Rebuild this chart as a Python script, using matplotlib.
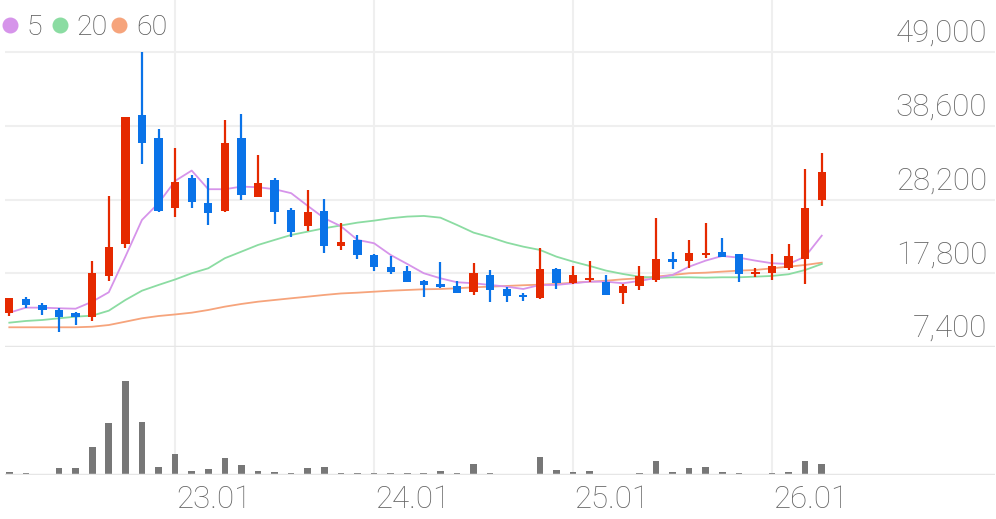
import matplotlib
matplotlib.use("Agg")
import matplotlib.pyplot as plt
import numpy as np

# monthly candles, 22.03 .. 26.04 (index 0..49)
opens = [12240, 14215, 13369, 12621, 12155, 11591, 17418, 21933, 40178, 36932,
         27055, 31289, 27761, 26590, 36848, 28607, 30964, 26731, 24473, 26632,
         21651, 22498, 20381, 18730, 18166, 16755, 16289, 16007, 15203, 17559,
         15541, 14596, 14272, 18363, 16388, 16854, 16614, 14977, 16007, 16854,
         19859, 19535, 20381, 20847, 20480, 17700, 17884, 18589, 19775, 28142]
closes = [14270, 13326, 12621, 11675, 11675, 17884, 21468, 39811, 36227, 26632,
          30724, 27902, 26350, 36142, 28847, 30498, 26491, 23669, 26491, 21651,
          22258, 20381, 18646, 17940, 16529, 16148, 15824, 15062, 17799, 15443,
          14596, 14413, 18363, 16388, 17559, 17178, 14737, 16007, 17418, 19817,
          19436, 20621, 20706, 20142, 17700, 18025, 18829, 20240, 26971, 32050]
highs = [14300, 14413, 13651, 12945, 12296, 19535, 28706, 39900, 48982, 38118,
         35437, 31669, 31204, 39430, 40234, 34491, 31204, 27055, 29553, 28283,
         24939, 23203, 20450, 20240, 18829, 16800, 19351, 16755, 19210, 18265,
         15824, 14977, 21411, 18500, 18829, 19535, 17559, 16289, 18871, 25560,
         20847, 22498, 24939, 22738, 20550, 18589, 20480, 21891, 32474, 34731]
lows = [11770, 12861, 11873, 9517, 10504, 11069, 16755, 21327, 33221, 26500,
        25785, 27055, 24614, 26406, 28142, 28500, 24755, 22963, 23768, 20706,
        21087, 19817, 18124, 17658, 16500, 14497, 15683, 14977, 14737, 13792,
        13792, 13933, 14200, 15541, 16300, 16614, 14700, 13467, 15443, 16614,
        18363, 18589, 19916, 20100, 16614, 17235, 16854, 18265, 16289, 27295]
volume = [22000, 12000, 5000, 62000, 62000, 272000, 518000, 935000, 528000, 72000,
          202000, 35000, 52000, 168000, 95000, 38000, 25000, 12000, 68000, 72000,
          18000, 18000, 15000, 15000, 15000, 12000, 35000, 12000, 108000, 20000,
          8000, 8000, 175000, 45000, 22000, 35000, 8000, 8000, 15000, 135000,
          28000, 62000, 72000, 28000, 15000, 8000, 18000, 25000, 138000, 102000]

ma5 = [12240, 12950, 12950, 12860, 12800, 13790, 15120, 20140, 25320, 27680,
       30820, 32280, 29650, 29650, 30020, 29930, 29650, 29090, 27300, 25560,
       24430, 22500, 22030, 20380, 19110, 17800, 17090, 16530, 16390, 16150,
       15910, 15580, 16150, 16150, 16390, 16610, 16610, 16390, 16710, 17140,
       17560, 18730, 19580, 20240, 20000, 19580, 19210, 19110, 20140, 23100]
ma20 = [10830, 11070, 11210, 11450, 11680, 11820, 12520, 14030, 15340, 16150,
        16920, 17800, 18500, 19920, 20850, 21790, 22500, 23200, 23670, 24150,
        24540, 24940, 25220, 25560, 25790, 25880, 25640, 24610, 23530, 22880,
        22120, 21550, 21090, 20140, 19440, 18830, 18170, 17700, 17320, 17140,
        17230, 17230, 17180, 17230, 17230, 17320, 17420, 17660, 18260, 19110]
ma60 = [10180, 10180, 10180, 10180, 10180, 10260, 10500, 10970, 11450, 11770,
        11990, 12240, 12620, 13090, 13470, 13790, 14030, 14270, 14500, 14740,
        14950, 15060, 15200, 15340, 15440, 15540, 15580, 15680, 15820, 15910,
        16010, 16110, 16190, 16290, 16470, 16610, 16750, 16950, 17090, 17320,
        17560, 17800, 17880, 18030, 18170, 18260, 18500, 18730, 18970, 19290]

price_ticks = [7400, 17800, 28200, 38600, 49000]
year_pos = [10, 22, 34, 46]
year_labels = ["23.01", "24.01", "25.01", "26.01"]
ma_labels = ["5", "20", "60"]

UP, DOWN = "#e52900", "#0a73e8"
MA_COLORS = ["#d694ea", "#8bdca2", "#f6a47c"]
GRID = "#efefef"
TXT = "#666666"

W, H = 996, 519
plt.rcParams["font.family"] = ["Roboto", "DejaVu Sans"]
fig = plt.figure(figsize=(W / 100, H / 100), dpi=100)

def px_axes(left, top, right, bottom):
    return fig.add_axes([left / W, 1 - bottom / H, (right - left) / W, (bottom - top) / H])

ax = px_axes(5, 0, 995, 347)
axv = px_axes(5, 347, 995, 474.5)

x = np.arange(len(opens))
xlim = (-0.26, 59.45)

for a in (ax, axv):
    a.set_xlim(*xlim)
    for s in a.spines.values():
        s.set_visible(False)
    a.set_xticks([])
    a.set_yticks([])
    for p in year_pos:
        a.axvline(p, color=GRID, lw=1.5, zorder=0)

ax.set_ylim(7400, 49000 + 52 * 141.02)
for v in price_ticks[1:]:
    ax.axhline(v, color=GRID, lw=1.5, zorder=0)
ax.axhline(7400, color="#e6e6e6", lw=2.5, zorder=0)
for v in price_ticks:
    ax.annotate(f"{v:,}", xy=(1, v), xycoords=("axes fraction", "data"),
                xytext=(-8, 10), textcoords="offset pixels", ha="right", va="baseline",
                fontsize=22.5, fontweight="light", color=TXT)

# moving averages
for vals, c in zip([ma60, ma20, ma5], MA_COLORS[::-1]):
    ax.plot(x, vals, color=c, lw=1.3, zorder=2)

# candles
o, c_, h, l = map(np.array, (opens, closes, highs, lows))
colors = [UP if cc >= oo else DOWN for oo, cc in zip(o, c_)]
ax.vlines(x, l, h, colors=colors, lw=1.6, zorder=3)
body = np.maximum(np.abs(c_ - o), 300)
ax.bar(x, body, bottom=np.minimum(o, c_), width=0.5, color=colors, zorder=4)

# volume
vmax = max(volume)
axv.set_ylim(0, vmax * 127.5 / 93.5)
axv.bar(x, volume, width=0.4, color="#777777", zorder=2)
axv.axhline(0, color="#e6e6e6", lw=2.5, zorder=3)

for p, lab in zip(year_pos, year_labels):
    fig.text((5 + (p - xlim[0]) / (xlim[1] - xlim[0]) * 990 + 1) / W, 1 - 508 / H, lab,
             ha="left", va="baseline", fontsize=22.5, fontweight="light", color=TXT)

# legend
for cx, tx, lab, col in zip([10, 60, 119.3], [26, 76, 136], ma_labels, MA_COLORS):
    fig.lines.append(plt.Line2D([cx / W], [1 - 25 / H], marker="o", ms=10.5,
                                color=col, transform=fig.transFigure))
    fig.text(tx / W, 1 - 35 / H, lab, ha="left", va="baseline",
             fontsize=20.5, fontweight="light", color="#555555")

fig.savefig("out.png", dpi=100, facecolor="white")
